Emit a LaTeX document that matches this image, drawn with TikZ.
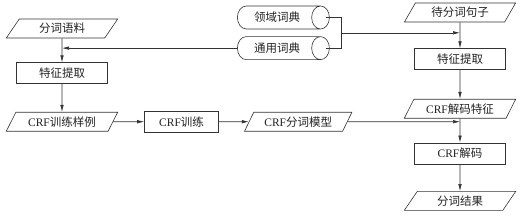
\documentclass[tikz,border=0pt]{standalone}
\usepackage{fontspec}
\setmainfont{Liberation Serif}
\newfontfamily\cjk{Noto Sans CJK SC}
\usetikzlibrary{arrows.meta,positioning,shapes.geometric,calc}
\definecolor{ink}{HTML}{222222}
\definecolor{wire}{HTML}{333333}
\newcommand{\crf}{{\rmfamily CRF}}

\begin{document}
\begin{tikzpicture}[
  x=1pt, y=-1pt, line width=0.6pt,
  font=\cjk\fontsize{11.5}{13}\selectfont,
  proc/.style={draw=wire, text=ink, minimum width=91pt, minimum height=21pt, inner sep=2pt},
  data/.style={trapezium, trapezium left angle=60, trapezium right angle=120,
    trapezium stretches=true, draw=wire, text=ink, minimum width=112pt,
    minimum height=19pt, inner sep=1pt},
  dict/.style={cylinder, shape aspect=1.4, draw=wire, text=ink,
    minimum height=92pt, minimum width=23pt, inner sep=1pt},
  ar/.style={-{Latex[length=7pt,width=3.5pt]}, draw=wire},
]
\useasboundingbox (0,0) rectangle (527,217);
% training side
\node[data] (corpus) at (62,28.5) {分词语料};
\node[proc, below=24pt of corpus] (featl) {特征提取};
\node[data, below=28pt of featl] (sample) {\crf 训练样例};
\node[proc, right=31pt of sample, minimum width=74pt] (train) {\crf 训练};
\node[data, right=30pt of train, minimum width=108pt] (model) {\crf 分词模型};
% dictionaries
\node[dict] (dom) at (277,17.5) {领域词典};
\node[dict, below=7pt of dom] (gen) {通用词典};
% decoding side
\node[data] (input) at (460,12.5) {待分词句子};
\node[proc, below=26pt of input] (featr) {特征提取};
\node[data, below=29pt of featr] (decf) {\crf 解码特征};
\node[proc, below=24pt of decf] (decode) {\crf 解码};
\node[data, below=27pt of decode] (result) {分词结果};

\draw[ar] (corpus) -- (featl);
\draw[ar] (featl) -- (sample);
\draw[ar] (sample) -- (train);
\draw[ar] (train) -- (model);
\draw[ar] (gen.west) -- (gen.west -| corpus.south);
\coordinate (join) at ($(dom.east)!0.5!(gen.east)+(12,0)$);
\draw[draw=wire] ([xshift=-4pt]dom.east) -| (join) |- ([xshift=-4pt]gen.east);
\draw[ar] (join) -- (join -| input.south);
\draw[ar] (input) -- (featr);
\draw[ar] (featr) -- (decf);
\draw[ar] (decf) -- (decode);
\draw[ar] (decode) -- (result);
\draw[ar] (model) -- (model -| decf.south);
\end{tikzpicture}
\end{document}
